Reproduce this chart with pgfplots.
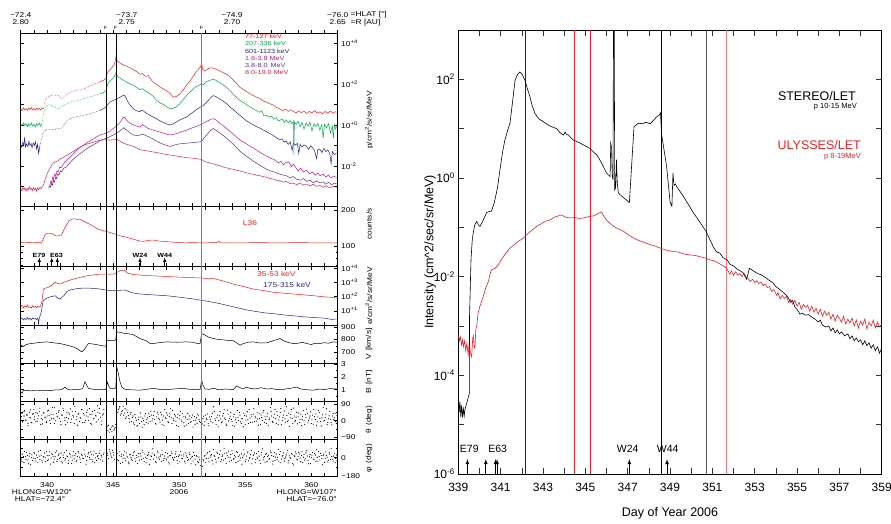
\documentclass[border=0pt]{standalone}
\usepackage{fontspec}
\setmainfont{Liberation Sans}
\newfontfamily\idl{Liberation Sans}[FakeStretch=1.2]
\usepackage{pgfplots}
\usepackage{pgfplotstable}
\pgfplotsset{compat=1.18}

\definecolor{cRed}{RGB}{255,25,25}
\definecolor{cGreen}{RGB}{0,170,70}
\definecolor{cNavy}{RGB}{35,35,145}
\definecolor{cMag}{RGB}{205,20,140}
\definecolor{cPurp}{RGB}{95,45,160}
\definecolor{cPink}{RGB}{235,30,85}
\definecolor{uRed}{RGB}{240,30,35}
\definecolor{uLight}{RGB}{245,120,125}
\newcommand{\tf}{\idl\fontsize{7}{7.5}\selectfont}
\newcommand{\lf}{\idl\fontsize{6}{6.5}\selectfont}

% ---------- right panel data (log10 intensity) ----------
\pgfplotstableread[row sep=\\]{d v\\
339.00 -4.30\\ 339.04 -4.75\\ 339.08 -4.55\\ 339.12 -4.85\\ 339.16 -4.60\\ 339.20 -4.85\\ 339.24 -4.68\\ 339.28 -4.82\\ 339.31 -4.70\\
339.52 -4.37\\ 339.53 -2.80\\ 339.60 -1.65\\ 339.66 -1.25\\ 339.71 -1.10\\ 339.78 -0.95\\ 339.87 -0.88\\ 339.95 -0.95\\ 340.02 -0.98\\
340.15 -0.88\\ 340.34 -0.70\\ 340.45 -0.68\\ 340.57 -0.67\\ 340.70 -0.50\\ 340.85 -0.20\\ 340.97 0.17\\ 341.10 0.55\\ 341.20 0.77\\
341.32 0.95\\ 341.44 1.11\\ 341.55 1.50\\ 341.68 1.98\\ 341.80 2.10\\ 341.91 2.15\\ 342.02 2.10\\ 342.15 1.98\\ 342.27 1.80\\
342.39 1.64\\ 342.50 1.45\\ 342.62 1.31\\ 342.80 1.20\\ 343.02 1.14\\ 343.30 1.06\\ 343.65 1.00\\ 343.80 0.92\\ 343.96 0.87\\
344.05 0.93\\ 344.12 0.88\\ 344.20 0.87\\ 344.43 0.77\\ 344.70 0.72\\ 345.00 0.65\\ 345.22 0.60\\ 345.40 0.52\\ 345.54 0.47\\
345.75 0.32\\ 346.00 0.10\\ 346.17 0.03\\ 346.20 0.70\\ 346.24 0.62\\ 346.27 0.05\\ 346.31 -0.04\\ 346.33 3.50\\ 346.36 3.50\\
346.39 -0.24\\ 346.43 -0.20\\ 346.47 0.37\\ 346.51 -0.10\\ 346.56 -0.30\\ 346.72 -0.37\\ 346.90 -0.43\\ 347.08 -0.50\\ 347.30 1.04\\
347.50 1.11\\ 347.70 1.10\\ 347.85 1.13\\ 348.06 1.10\\ 348.20 1.16\\ 348.37 1.24\\ 348.48 1.27\\ 348.55 1.32\\ 348.60 0.90\\
348.84 0.23\\ 349.00 -0.47\\ 349.05 -0.55\\ 349.09 -0.57\\ 349.14 0.10\\ 349.19 -0.15\\ 349.25 -0.12\\ 349.31 -0.17\\ 349.63 -0.37\\
350.10 -0.70\\ 350.42 -0.90\\ 350.70 -1.08\\ 351.05 -1.40\\ 351.20 -1.50\\ 351.35 -1.52\\ 351.52 -1.62\\ 351.70 -1.66\\ 351.83 -1.75\\
352.00 -1.78\\ 352.15 -1.84\\ 352.31 -1.88\\ 352.45 -1.92\\ 352.62 -2.05\\ 352.68 -1.95\\ 352.75 -1.83\\ 352.85 -1.86\\ 353.00 -1.90\\
353.15 -1.94\\ 353.30 -1.96\\ 353.41 -1.99\\ 353.55 -2.03\\ 353.70 -2.08\\ 353.85 -2.12\\ 354.00 -2.20\\ 354.15 -2.25\\ 354.30 -2.30\\
354.45 -2.36\\ 354.55 -2.40\\ 354.70 -2.52\\ 354.80 -2.48\\ 354.90 -2.62\\ 355.00 -2.66\\ 355.14 -2.76\\ 355.25 -2.74\\ 355.40 -2.78\\
355.55 -2.77\\ 355.70 -2.82\\ 355.85 -2.86\\ 356.00 -2.92\\ 356.10 -2.88\\ 356.20 -2.98\\ 356.35 -3.02\\ 356.50 -3.00\\ 356.60 -3.10\\
356.70 -3.04\\ 356.80 -3.14\\ 356.90 -3.08\\ 357.00 -3.16\\ 357.10 -3.12\\ 357.25 -3.20\\ 357.40 -3.16\\ 357.50 -3.26\\ 357.60 -3.20\\
357.70 -3.30\\ 357.80 -3.24\\ 357.90 -3.32\\ 358.00 -3.28\\ 358.10 -3.38\\ 358.20 -3.30\\ 358.30 -3.40\\ 358.40 -3.34\\ 358.50 -3.45\\
358.60 -3.38\\ 358.70 -3.50\\ 358.80 -3.42\\ 358.90 -3.55\\ 359.00 -3.45\\
}\stereo

\pgfplotstableread[row sep=\\]{d v\\
339.00 -3.17\\ 339.05 -3.30\\ 339.10 -3.22\\ 339.15 -3.38\\ 339.20 -3.28\\ 339.24 -3.42\\ 339.30 -3.30\\ 339.35 -3.50\\ 339.40 -3.36\\
339.47 -3.58\\ 339.52 -3.30\\ 339.57 -3.55\\ 339.63 -3.62\\ 339.68 -3.25\\ 339.71 -3.20\\ 339.75 -3.45\\ 339.79 -3.40\\ 339.83 -3.05\\
339.87 -3.00\\ 339.93 -2.75\\ 340.02 -2.60\\ 340.10 -2.50\\ 340.18 -2.40\\ 340.30 -2.22\\ 340.42 -2.10\\ 340.50 -1.95\\ 340.57 -1.86\\
340.70 -1.84\\ 340.81 -1.80\\ 340.93 -1.73\\ 341.05 -1.64\\ 341.25 -1.52\\ 341.44 -1.42\\ 341.65 -1.35\\ 341.85 -1.28\\ 342.07 -1.22\\
342.30 -1.12\\ 342.50 -1.05\\ 342.70 -0.98\\ 342.90 -0.93\\ 343.10 -0.88\\ 343.33 -0.85\\ 343.50 -0.80\\ 343.70 -0.77\\ 343.88 -0.75\\
344.05 -0.79\\ 344.28 -0.81\\ 344.50 -0.80\\ 344.70 -0.82\\ 344.91 -0.81\\ 345.10 -0.79\\ 345.25 -0.77\\ 345.38 -0.77\\ 345.55 -0.73\\
345.70 -0.70\\ 345.77 -0.69\\ 345.88 -0.78\\ 346.00 -0.85\\ 346.24 -0.95\\ 346.50 -1.02\\ 346.80 -1.08\\ 347.10 -1.17\\ 347.43 -1.25\\
347.75 -1.30\\ 348.06 -1.35\\ 348.30 -1.38\\ 348.53 -1.42\\ 348.80 -1.46\\ 349.16 -1.49\\ 349.40 -1.50\\ 349.65 -1.54\\ 349.94 -1.56\\
350.20 -1.57\\ 350.45 -1.60\\ 350.65 -1.62\\ 350.90 -1.66\\ 351.10 -1.68\\ 351.35 -1.74\\ 351.60 -1.80\\ 351.70 -1.85\\ 351.83 -1.95\\
351.90 -1.88\\ 352.00 -1.97\\ 352.10 -1.90\\ 352.20 -1.96\\ 352.31 -1.94\\ 352.40 -2.00\\ 352.50 -1.93\\ 352.60 -2.02\\ 352.70 -2.04\\
352.78 -2.10\\ 352.90 -2.05\\ 353.00 -2.12\\ 353.10 -2.08\\ 353.20 -2.14\\ 353.30 -2.11\\ 353.41 -2.18\\ 353.50 -2.15\\ 353.60 -2.22\\
353.70 -2.20\\ 353.80 -2.30\\ 353.90 -2.26\\ 354.04 -2.38\\ 354.10 -2.32\\ 354.20 -2.45\\ 354.30 -2.38\\ 354.40 -2.44\\ 354.51 -2.40\\
354.60 -2.52\\ 354.70 -2.46\\ 354.80 -2.56\\ 354.90 -2.48\\ 355.00 -2.60\\ 355.10 -2.52\\ 355.20 -2.66\\ 355.30 -2.56\\ 355.40 -2.62\\
355.50 -2.58\\ 355.60 -2.70\\ 355.70 -2.60\\ 355.80 -2.72\\ 355.90 -2.64\\ 356.00 -2.76\\ 356.10 -2.66\\ 356.20 -2.80\\ 356.30 -2.70\\
356.40 -2.78\\ 356.50 -2.72\\ 356.60 -2.86\\ 356.70 -2.76\\ 356.80 -2.90\\ 356.90 -2.78\\ 357.00 -2.84\\ 357.10 -2.92\\ 357.20 -2.80\\
357.30 -2.96\\ 357.40 -2.86\\ 357.50 -2.94\\ 357.60 -2.84\\ 357.70 -3.00\\ 357.80 -2.88\\ 357.90 -3.04\\ 358.00 -2.90\\ 358.10 -2.98\\
358.20 -2.86\\ 358.30 -3.06\\ 358.40 -2.92\\ 358.50 -3.00\\ 358.60 -2.88\\ 358.70 -3.04\\ 358.80 -2.92\\ 358.90 -3.02\\ 359.00 -2.96\\
}\ulysses

% ---------- left panel 1 (log10 p/cm2/s/sr/MeV) ----------
\pgfplotstableread[row sep=\\]{d v\\
338.00 0.79\\ 338.10 0.70\\ 338.20 0.84\\ 338.30 0.74\\ 338.40 0.80\\ 338.50 0.71\\ 338.60 0.82\\ 338.70 0.76\\ 338.80 0.86\\ 338.90 0.74\\
339.00 0.80\\ 339.10 0.72\\ 339.20 0.83\\ 339.30 0.75\\ 339.40 0.81\\ 339.50 0.73\\ 339.60 0.84\\ 339.72 0.80\\
}\redA
\pgfplotstableread[row sep=\\]{d v\\
339.72 0.80\\ 339.85 1.20\\ 339.97 1.36\\ 340.20 1.42\\ 340.50 1.46\\ 340.85 1.44\\ 341.10 1.28\\ 341.40 1.45\\ 341.73 1.60\\ 342.20 1.70\\
342.74 1.76\\ 343.30 1.92\\ 344.00 2.11\\
}\redB
\pgfplotstableread[row sep=\\]{d v\\
344.00 2.11\\ 344.15 2.16\\ 344.30 2.20\\ 344.45 2.28\\ 344.55 2.50\\ 344.64 2.64\\ 344.80 2.72\\ 344.95 2.85\\ 345.08 2.95\\ 345.15 3.10\\
345.22 3.36\\ 345.30 3.15\\ 345.40 3.08\\ 345.52 3.04\\ 345.70 2.96\\ 345.85 2.92\\ 346.02 2.88\\ 346.20 2.82\\ 346.35 2.78\\ 346.53 2.70\\
346.70 2.65\\ 346.85 2.58\\ 347.03 2.48\\ 347.20 2.52\\ 347.35 2.42\\ 347.50 2.38\\ 347.66 2.42\\ 347.80 2.28\\ 348.04 2.08\\ 348.30 1.98\\
348.55 1.86\\ 348.80 1.76\\ 349.05 1.68\\ 349.30 1.55\\ 349.56 1.36\\ 349.80 1.40\\ 350.06 1.52\\ 350.31 1.72\\ 350.57 1.96\\ 350.82 2.16\\
351.10 2.42\\ 351.32 2.64\\ 351.50 2.76\\ 351.62 2.85\\ 351.70 3.04\\ 351.78 2.72\\ 351.95 2.64\\ 352.20 2.76\\ 352.40 2.80\\ 352.58 2.78\\
352.90 2.70\\ 353.20 2.60\\ 353.59 2.48\\ 353.85 2.36\\ 354.10 2.20\\ 354.35 2.02\\ 354.60 1.84\\ 354.85 1.74\\ 355.10 1.64\\ 355.35 1.52\\
355.61 1.44\\ 355.85 1.36\\ 356.10 1.30\\ 356.35 1.18\\ 356.62 1.12\\ 356.85 1.04\\ 357.10 0.98\\ 357.35 0.86\\ 357.63 0.79\\ 357.85 0.70\\
358.05 0.78\\ 358.25 0.66\\ 358.45 0.74\\ 358.64 0.68\\ 358.85 0.58\\ 359.05 0.70\\ 359.25 0.60\\ 359.45 0.68\\ 359.65 0.56\\ 359.85 0.66\\
360.05 0.60\\ 360.25 0.70\\ 360.45 0.58\\ 360.66 0.64\\ 360.85 0.55\\ 361.05 0.66\\ 361.25 0.58\\ 361.45 0.68\\ 361.65 0.57\\ 361.80 0.65\\
361.92 0.62\\
}\redC
\pgfplotstableread[row sep=\\]{d v\\
338.00 0.07\\ 338.10 -0.05\\ 338.20 0.10\\ 338.30 -0.02\\ 338.40 0.08\\ 338.50 -0.08\\ 338.60 0.05\\ 338.70 -0.04\\ 338.80 0.10\\
338.90 -0.06\\ 339.00 0.04\\ 339.10 -0.10\\ 339.20 0.06\\ 339.30 -0.03\\ 339.40 0.09\\ 339.50 -0.05\\ 339.60 0.06\\
}\grnA
\pgfplotstableread[row sep=\\]{d v\\
339.60 0.06\\ 339.75 0.60\\ 339.97 0.95\\ 340.20 1.00\\ 340.50 0.88\\ 340.85 0.79\\ 341.20 0.95\\ 341.73 1.12\\ 342.30 1.20\\ 342.74 1.28\\
343.40 1.40\\ 344.01 1.52\\
}\grnB
\pgfplotstableread[row sep=\\]{d v\\
344.01 1.52\\ 344.30 1.60\\ 344.46 1.68\\ 344.55 1.90\\ 344.64 2.08\\ 344.85 2.20\\ 345.00 2.30\\ 345.12 2.40\\ 345.22 2.56\\ 345.35 2.36\\
345.50 2.30\\ 345.65 2.24\\ 345.85 2.16\\ 346.00 2.10\\ 346.25 2.02\\ 346.50 1.95\\ 346.75 1.85\\ 347.03 1.72\\ 347.20 1.78\\ 347.35 1.70\\
347.60 1.60\\ 347.80 1.52\\ 348.04 1.40\\ 348.30 1.20\\ 348.55 1.08\\ 348.80 1.00\\ 349.05 0.90\\ 349.30 0.79\\ 349.50 0.80\\ 349.70 0.86\\
350.06 1.04\\ 350.30 1.25\\ 350.50 1.40\\ 350.75 1.58\\ 350.94 1.68\\ 351.15 1.82\\ 351.35 1.90\\ 351.55 1.96\\ 351.70 2.00\\ 351.85 1.98\\
352.00 2.10\\ 352.30 2.18\\ 352.58 2.24\\ 352.80 2.18\\ 353.00 2.10\\ 353.30 1.98\\ 353.59 1.84\\ 353.85 1.68\\ 354.10 1.50\\ 354.35 1.34\\
354.60 1.20\\ 354.85 1.10\\ 355.10 1.00\\ 355.35 0.88\\ 355.61 0.79\\ 355.85 0.70\\ 356.10 0.62\\ 356.25 0.70\\ 356.40 0.45\\ 356.62 0.47\\
356.80 0.38\\ 357.00 0.44\\ 357.15 0.28\\ 357.35 0.36\\ 357.50 0.20\\ 357.63 0.23\\ 357.80 0.30\\ 357.95 0.12\\ 358.10 0.25\\ 358.25 0.10\\
358.40 0.22\\ 358.55 0.05\\ 358.65 0.20\\ 358.68 -1.45\\ 358.72 0.15\\ 358.85 0.02\\ 359.00 0.18\\ 359.15 -0.10\\ 359.30 0.12\\ 359.45 -0.20\\
359.60 0.10\\ 359.75 -0.05\\ 359.90 0.14\\ 360.05 -0.30\\ 360.20 0.05\\ 360.35 -0.08\\ 360.50 0.08\\ 360.65 -0.25\\ 360.80 0.02\\ 360.90 -0.65\\
361.00 0.04\\ 361.15 -0.15\\ 361.30 0.06\\ 361.45 -0.40\\ 361.60 -0.05\\ 361.67 -0.65\\ 361.75 0.00\\ 361.85 -0.20\\ 361.92 -0.09\\
}\grnC
\pgfplotstableread[row sep=\\]{d v\\
338.00 -0.97\\ 338.08 -1.10\\ 338.16 -0.85\\ 338.24 -1.02\\ 338.30 -0.60\\ 338.36 -1.08\\ 338.45 -0.92\\ 338.55 -1.05\\ 338.62 -0.80\\
338.70 -1.00\\ 338.78 -0.90\\ 338.86 -1.12\\ 338.95 -0.88\\ 339.04 -1.00\\ 339.12 -0.82\\ 339.20 -1.18\\ 339.28 -0.95\\ 339.36 -1.40\\
339.46 -1.00\\
}\bluA
\pgfplotstableread[row sep=\\]{d v\\
339.46 -1.00\\ 339.72 -0.33\\ 340.00 -0.20\\ 340.30 -0.25\\ 340.85 -0.17\\ 341.10 -0.15\\ 341.50 0.20\\ 341.73 0.31\\ 342.30 0.42\\
342.99 0.50\\ 343.50 0.60\\ 344.01 0.71\\
}\bluB
\pgfplotstableread[row sep=\\]{d v\\
344.01 0.71\\ 344.20 0.78\\ 344.40 0.85\\ 344.60 1.00\\ 344.76 1.12\\ 345.00 1.20\\ 345.27 1.28\\ 345.50 1.35\\ 345.70 1.42\\ 345.82 1.46\\
345.95 1.35\\ 346.10 1.15\\ 346.30 0.95\\ 346.53 0.79\\ 346.75 0.70\\ 347.00 0.65\\ 347.15 0.72\\ 347.30 0.68\\ 347.55 0.56\\ 347.79 0.47\\
348.05 0.38\\ 348.30 0.30\\ 348.55 0.20\\ 348.80 0.12\\ 349.05 0.05\\ 349.30 0.00\\ 349.55 0.06\\ 349.80 0.15\\ 350.06 0.25\\ 350.30 0.32\\
350.57 0.39\\ 350.80 0.52\\ 351.00 0.60\\ 351.30 0.75\\ 351.58 0.87\\ 351.75 0.92\\ 351.90 1.00\\ 352.20 1.20\\ 352.40 1.35\\ 352.58 1.44\\
352.80 1.38\\ 353.00 1.30\\ 353.30 1.18\\ 353.59 1.04\\ 353.85 0.88\\ 354.10 0.75\\ 354.35 0.60\\ 354.60 0.47\\ 354.85 0.34\\ 355.10 0.20\\
355.35 0.10\\ 355.61 0.00\\ 355.85 -0.08\\ 356.10 -0.15\\ 356.35 -0.24\\ 356.62 -0.33\\ 356.85 -0.42\\ 357.10 -0.50\\ 357.35 -0.62\\ 357.63 -0.73\\
357.80 -0.68\\ 357.95 -0.85\\ 358.10 -0.78\\ 358.25 -0.95\\ 358.40 -0.82\\ 358.55 -1.25\\ 358.64 -0.89\\ 358.80 -0.98\\ 358.95 -0.90\\ 359.05 -1.40\\
359.15 -0.95\\ 359.30 -1.08\\ 359.45 -0.98\\ 359.65 -1.05\\ 359.80 -1.20\\ 359.95 -1.02\\ 360.10 -1.12\\ 360.25 -1.25\\ 360.40 -1.65\\ 360.50 -1.18\\
360.66 -1.20\\ 360.80 -1.35\\ 360.95 -1.15\\ 361.10 -1.30\\ 361.25 -1.22\\ 361.40 -1.40\\ 361.50 -1.90\\ 361.60 -1.30\\ 361.75 -1.45\\ 361.92 -1.37\\
}\bluC
\pgfplotstableread[row sep=\\]{d v\\
340.20 -2.95\\ 340.28 -2.75\\ 340.35 -2.85\\ 340.42 -2.55\\ 340.50 -2.65\\ 340.58 -2.40\\ 340.66 -2.50\\ 340.75 -2.25\\ 340.85 -2.30\\
340.95 -2.05\\ 341.05 -2.10\\ 341.20 -1.95\\ 341.35 -1.80\\ 341.50 -1.70\\ 341.73 -1.58\\ 342.00 -1.40\\ 342.20 -1.25\\ 342.50 -1.10\\
342.74 -1.00\\ 343.00 -0.88\\ 343.25 -0.78\\ 343.50 -0.68\\ 343.70 -0.60\\ 344.01 -0.49\\ 344.25 -0.44\\ 344.46 -0.41\\ 344.75 -0.30\\
345.01 -0.17\\ 345.25 -0.05\\ 345.50 0.10\\ 345.70 0.30\\ 345.82 0.39\\ 345.95 0.30\\ 346.10 0.18\\ 346.30 0.08\\ 346.53 0.00\\
346.80 -0.06\\ 347.03 -0.10\\ 347.20 0.02\\ 347.35 -0.04\\ 347.66 -0.17\\ 348.00 -0.24\\ 348.30 -0.30\\ 348.70 -0.38\\ 349.05 -0.45\\
349.30 -0.49\\ 349.55 -0.46\\ 349.80 -0.42\\ 350.20 -0.33\\ 350.57 -0.25\\ 350.90 -0.16\\ 351.20 -0.10\\ 351.58 0.00\\ 351.80 0.08\\
352.10 0.18\\ 352.40 0.28\\ 352.58 0.31\\ 352.80 0.24\\ 353.00 0.12\\ 353.30 -0.02\\ 353.59 -0.17\\ 353.85 -0.32\\ 354.10 -0.45\\
354.35 -0.60\\ 354.60 -0.73\\ 355.10 -0.93\\ 355.61 -1.13\\ 356.10 -1.33\\ 356.62 -1.53\\ 356.90 -1.62\\ 357.20 -1.70\\ 357.50 -1.85\\
357.70 -1.78\\ 357.88 -1.95\\ 358.05 -1.85\\ 358.30 -1.80\\ 358.50 -2.05\\ 358.64 -1.92\\ 358.85 -2.10\\ 359.00 -2.25\\ 359.20 -2.12\\
359.40 -2.30\\ 359.65 -2.22\\ 359.85 -2.38\\ 360.10 -2.30\\ 360.30 -2.45\\ 360.50 -2.35\\ 360.66 -2.48\\ 360.90 -2.40\\ 361.10 -2.55\\
361.30 -2.45\\ 361.50 -2.60\\ 361.70 -2.50\\ 361.92 -2.57\\
}\magT
\pgfplotstableread[row sep=\\]{d v\\
340.10 -3.10\\ 340.18 -2.98\\ 340.25 -3.05\\ 340.32 -2.85\\ 340.40 -2.95\\ 340.48 -2.70\\ 340.56 -2.80\\ 340.65 -2.55\\ 340.72 -2.62\\
340.80 -2.40\\ 340.90 -2.45\\ 341.00 -2.25\\ 341.10 -2.30\\ 341.25 -2.12\\ 341.48 -2.05\\ 341.65 -1.90\\ 341.80 -1.80\\ 342.00 -1.66\\
342.20 -1.55\\ 342.45 -1.42\\ 342.74 -1.29\\ 343.00 -1.16\\ 343.30 -1.05\\ 343.50 -0.97\\ 343.70 -0.90\\ 344.01 -0.76\\ 344.25 -0.70\\
344.46 -0.65\\ 344.75 -0.57\\ 345.01 -0.49\\ 345.25 -0.40\\ 345.45 -0.32\\ 345.65 -0.22\\ 345.82 -0.13\\ 345.95 -0.22\\ 346.15 -0.32\\
346.35 -0.42\\ 346.53 -0.49\\ 346.80 -0.52\\ 347.03 -0.50\\ 347.20 -0.44\\ 347.35 -0.48\\ 347.66 -0.57\\ 348.00 -0.68\\ 348.30 -0.80\\
348.70 -0.92\\ 349.05 -1.00\\ 349.30 -1.05\\ 349.55 -1.00\\ 349.80 -0.95\\ 350.20 -0.91\\ 350.57 -0.89\\ 350.90 -0.87\\ 351.20 -0.85\\
351.50 -0.83\\ 351.70 -0.81\\ 351.90 -0.62\\ 352.10 -0.48\\ 352.35 -0.28\\ 352.58 -0.17\\ 352.80 -0.26\\ 353.00 -0.36\\ 353.30 -0.50\\
353.59 -0.65\\ 353.85 -0.80\\ 354.10 -0.95\\ 354.35 -1.12\\ 354.60 -1.29\\ 355.10 -1.53\\ 355.61 -1.77\\ 356.10 -1.97\\ 356.62 -2.17\\
356.90 -2.24\\ 357.20 -2.30\\ 357.50 -2.38\\ 357.80 -2.44\\ 358.14 -2.49\\ 358.40 -2.60\\ 358.60 -2.52\\ 358.90 -2.66\\ 359.20 -2.70\\
359.40 -2.62\\ 359.65 -2.76\\ 359.90 -2.70\\ 360.15 -2.82\\ 360.40 -2.74\\ 360.66 -2.84\\ 360.90 -2.78\\ 361.10 -2.90\\ 361.30 -2.80\\
361.55 -2.92\\ 361.75 -2.84\\ 361.92 -2.89\\
}\purT
\pgfplotstableread[row sep=\\]{d v\\
338.00 -3.13\\ 338.08 -3.22\\ 338.16 -3.05\\ 338.24 -3.18\\ 338.32 -3.08\\ 338.40 -3.25\\ 338.48 -3.10\\ 338.56 -3.20\\ 338.64 -3.02\\
338.72 -3.15\\ 338.80 -3.08\\ 338.88 -3.22\\ 338.96 -3.06\\ 339.04 -3.18\\ 339.12 -3.10\\ 339.20 -3.24\\ 339.28 -3.08\\ 339.36 -3.16\\
339.46 -3.05\\ 339.55 -3.12\\ 339.62 -3.00\\ 339.72 -2.95\\ 339.85 -2.65\\ 339.97 -2.45\\ 340.10 -2.25\\ 340.22 -2.10\\ 340.35 -1.95\\
340.47 -1.85\\ 340.65 -1.80\\ 340.85 -1.74\\ 341.00 -1.66\\ 341.20 -1.60\\ 341.45 -1.50\\ 341.73 -1.40\\ 342.00 -1.28\\ 342.20 -1.20\\
342.50 -1.08\\ 342.74 -1.00\\ 343.00 -0.94\\ 343.25 -0.90\\ 343.50 -0.84\\ 343.70 -0.80\\ 344.01 -0.75\\ 344.25 -0.73\\ 344.46 -0.72\\
344.75 -0.74\\ 345.00 -0.73\\ 345.15 -0.72\\ 345.27 -0.69\\ 345.40 -0.75\\ 345.52 -0.80\\ 345.75 -0.88\\ 346.02 -0.95\\ 346.30 -1.00\\
346.53 -1.05\\ 346.80 -1.13\\ 347.03 -1.21\\ 347.30 -1.24\\ 347.66 -1.28\\ 348.00 -1.32\\ 348.30 -1.35\\ 348.70 -1.40\\ 349.05 -1.45\\
349.40 -1.48\\ 349.80 -1.52\\ 350.20 -1.56\\ 350.57 -1.60\\ 350.95 -1.62\\ 351.32 -1.65\\ 351.70 -1.69\\ 351.85 -1.76\\ 352.00 -1.80\\
352.30 -1.86\\ 352.58 -1.90\\ 352.85 -1.95\\ 353.10 -2.00\\ 353.35 -2.06\\ 353.59 -2.10\\ 353.85 -2.14\\ 354.10 -2.17\\ 354.35 -2.22\\
354.60 -2.25\\ 354.85 -2.30\\ 355.10 -2.34\\ 355.35 -2.38\\ 355.61 -2.41\\ 355.85 -2.46\\ 356.10 -2.48\\ 356.35 -2.53\\ 356.62 -2.55\\
356.85 -2.62\\ 357.10 -2.64\\ 357.35 -2.70\\ 357.63 -2.73\\ 357.85 -2.80\\ 358.10 -2.76\\ 358.35 -2.86\\ 358.64 -2.85\\ 358.90 -2.92\\
359.15 -2.84\\ 359.40 -2.94\\ 359.65 -2.89\\ 359.90 -2.98\\ 360.15 -2.90\\ 360.40 -3.00\\ 360.66 -2.95\\ 360.90 -3.05\\ 361.15 -2.98\\
361.40 -3.08\\ 361.65 -3.00\\ 361.92 -3.05\\
}\pinkT

% ---------- electrons (log10) ----------
\pgfplotstableread[row sep=\\]{d v\\
338.00 1.28\\ 338.10 1.40\\ 338.20 1.20\\ 338.30 1.35\\ 338.40 1.25\\ 338.50 1.42\\ 338.60 1.22\\ 338.70 1.30\\ 338.80 1.18\\ 338.90 1.36\\
339.00 1.24\\ 339.10 1.32\\ 339.20 1.20\\ 339.30 1.34\\ 339.46 1.26\\ 339.60 1.60\\ 339.72 2.53\\ 339.90 2.60\\ 340.09 2.65\\ 340.35 2.80\\
340.60 3.00\\ 340.80 2.92\\ 340.98 2.88\\ 341.30 3.02\\ 341.60 3.12\\ 341.99 3.23\\ 342.50 3.35\\ 343.00 3.46\\ 343.50 3.52\\ 344.01 3.58\\
344.50 3.57\\ 345.01 3.58\\ 345.30 3.70\\ 345.52 3.82\\ 345.75 3.85\\ 345.90 3.83\\ 346.10 3.65\\ 346.53 3.55\\ 347.50 3.48\\ 348.50 3.44\\
349.05 3.41\\ 350.00 3.37\\ 351.00 3.33\\ 351.58 3.31\\ 352.00 3.28\\ 352.30 3.25\\ 352.58 3.27\\ 352.80 3.22\\ 353.30 3.10\\ 354.10 2.88\\
354.80 2.72\\ 355.61 2.53\\ 356.40 2.42\\ 357.13 2.30\\ 357.90 2.24\\ 358.64 2.18\\ 359.40 2.12\\ 360.15 2.06\\ 361.00 1.98\\ 361.50 1.95\\
361.92 1.90\\
}\eRed
\pgfplotstableread[row sep=\\]{d v\\
338.00 0.41\\ 338.10 0.50\\ 338.20 0.36\\ 338.30 0.46\\ 338.40 0.38\\ 338.50 0.52\\ 338.60 0.40\\ 338.70 0.48\\ 338.80 0.35\\ 338.90 0.50\\
339.00 0.42\\ 339.10 0.46\\ 339.20 0.38\\ 339.30 0.50\\ 339.35 0.06\\ 339.40 0.45\\ 339.55 0.90\\ 339.70 1.70\\ 339.90 1.85\\ 340.09 1.94\\
340.35 2.00\\ 340.60 2.06\\ 340.80 1.90\\ 340.98 1.82\\ 341.30 2.10\\ 341.50 2.36\\ 341.73 2.46\\ 342.20 2.55\\ 342.74 2.60\\ 343.50 2.58\\
344.01 2.53\\ 344.50 2.45\\ 345.01 2.41\\ 345.50 2.44\\ 345.90 2.46\\ 346.20 2.35\\ 346.53 2.25\\ 347.03 2.18\\ 348.00 2.12\\ 349.05 2.06\\
350.00 1.96\\ 351.00 1.84\\ 351.58 1.75\\ 352.20 1.66\\ 353.00 1.52\\ 354.10 1.28\\ 355.00 1.08\\ 355.61 0.98\\ 356.50 0.85\\ 357.13 0.80\\
358.00 0.70\\ 358.64 0.65\\ 359.40 0.58\\ 360.15 0.53\\ 361.00 0.48\\ 361.50 0.40\\ 361.92 0.41\\
}\eBlue

\pgfplotsset{
  lp/.style={scale only axis, width=317pt, anchor=north west, xmin=338, xmax=362,
    xtick={338,...,362}, xticklabels={}, tick align=inside,
    major tick length=3.5pt, minor tick length=2pt,
    yticklabel pos=right, ticklabel style={font=\tf},
    /pgf/number format/assume math mode=true,
    axis line style={line width=0.6pt},
    every tick/.append style={line width=0.5pt, black},
    clip=true},
  cv/.style={line width=0.5pt},
  dots/.style={only marks, mark=*, mark size=0.28pt, black}
}

\begin{document}
\begin{tikzpicture}
\useasboundingbox (0pt,0pt) rectangle (891pt,-523pt);

% ================= LEFT: panel 1 ====================
\begin{axis}[lp, at={(20.7pt,-33pt)}, height=173.7pt, ymode=log, ymin=1e-4, ymax=31623,
  xtick pos=bottom,
  ytick={1e-4,1e-3,1e-2,1e-1,1,10,100,1000,10000},
  yticklabels={,,10\textsuperscript{-2},,10\textsuperscript{+0},,10\textsuperscript{+2},,10\textsuperscript{+4}},
  minor tick length=0pt]
\addplot[cv, cPink] table[x=d, y expr=10^(\thisrow{v})] {\pinkT};
\addplot[cv, cPurp] table[x=d, y expr=10^(\thisrow{v})] {\purT};
\addplot[cv, cMag] table[x=d, y expr=10^(\thisrow{v})] {\magT};
\addplot[cv, cNavy] table[x=d, y expr=10^(\thisrow{v})] {\bluA};
\addplot[cv, cNavy, densely dotted] table[x=d, y expr=10^(\thisrow{v})] {\bluB};
\addplot[cv, cNavy] table[x=d, y expr=10^(\thisrow{v})] {\bluC};
\addplot[cv, cGreen] table[x=d, y expr=10^(\thisrow{v})] {\grnA};
\addplot[cv, cGreen, densely dotted] table[x=d, y expr=10^(\thisrow{v})] {\grnB};
\addplot[cv, cGreen] table[x=d, y expr=10^(\thisrow{v})] {\grnC};
\addplot[cv, cRed] table[x=d, y expr=10^(\thisrow{v})] {\redA};
\addplot[cv, cRed, densely dotted] table[x=d, y expr=10^(\thisrow{v})] {\redB};
\addplot[cv, cRed] table[x=d, y expr=10^(\thisrow{v})] {\redC};
\end{axis}
% outward ticks along the top (HLAT / R scale)
\begin{axis}[at={(20.7pt,-33pt)}, anchor=north west, scale only axis, width=317pt, height=173.7pt,
  xmin=338, xmax=362, ymin=0, ymax=1, axis x line*=top, axis y line=none,
  xtick={338,...,362}, xticklabels={}, tick align=outside, major tick length=3pt,
  axis line style={line width=0.6pt}, every tick/.append style={line width=0.5pt, black}]
\end{axis}

% panel 2 counts/s
\begin{axis}[lp, at={(20.7pt,-206.7pt)}, height=60pt, ymode=log, ymin=68, ymax=213,
  ytick={100,200}, yticklabels={100,200}, minor ytick={70,80,90}]
\addplot[cv, cRed] coordinates {(338.00,108) (338.30,107) (338.60,108) (338.90,107) (339.20,108) (339.59,108) (339.70,115)
 (339.84,125) (340.00,128) (340.22,129) (340.45,126) (340.70,122) (340.85,122) (341.10,125) (341.30,140) (341.48,151)
 (341.65,162) (341.86,168) (342.10,169) (342.30,167) (342.49,168) (342.75,162) (343.00,157) (343.40,149) (343.75,141)
 (344.10,136) (344.51,133) (344.90,129) (345.27,125) (345.60,122) (346.02,119) (346.50,115) (347.00,111) (347.29,110)
 (347.60,112) (348.04,113) (348.40,111) (348.80,110) (349.30,109) (349.80,108) (350.50,107) (351.00,108) (351.50,107)
 (352.00,107) (352.90,108) (353.00,111) (353.10,107) (354.00,107) (355.00,107) (356.00,108) (357.00,107) (358.00,107)
 (359.00,108) (360.00,107) (361.00,107) (362.00,107)};
\draw[-latex, line width=0.5pt] (axis cs:339.41,68) -- (axis cs:339.41,81);
\draw[-latex, line width=0.5pt] (axis cs:340.35,68) -- (axis cs:340.35,81);
\draw[-latex, line width=0.5pt] (axis cs:340.77,68) -- (axis cs:340.77,81);
\draw[-latex, line width=0.5pt] (axis cs:347.03,68) -- (axis cs:347.03,81);
\draw[-latex, line width=0.5pt] (axis cs:348.90,68) -- (axis cs:348.90,81);
\end{axis}

% panel 3 electrons
\begin{axis}[lp, at={(20.7pt,-266.7pt)}, height=58.3pt, ymode=log, ymin=1, ymax=12589,
  ytick={10,100,1000,10000},
  yticklabels={10\textsuperscript{+1},10\textsuperscript{+2},10\textsuperscript{+3},10\textsuperscript{+4}},
  minor tick length=0pt]
\addplot[cv, cNavy] table[x=d, y expr=10^(\thisrow{v})] {\eBlue};
\addplot[cv, cRed] table[x=d, y expr=10^(\thisrow{v})] {\eRed};
\end{axis}

% panel 4 V
\begin{axis}[lp, at={(20.7pt,-325pt)}, height=38pt, ymin=612, ymax=916,
  ytick={700,800,900}, minor ytick={650,750,850}]
\addplot[cv, black] coordinates {(338.00,754) (338.20,745) (338.40,758) (338.60,765) (338.96,770) (339.30,775) (339.60,778)
 (339.97,781) (340.30,776) (340.60,772) (340.98,768) (341.30,760) (341.60,752) (341.99,741) (342.30,725) (342.62,701)
 (342.75,712) (342.87,728) (343.12,768) (343.40,765) (343.70,760) (344.01,754) (344.30,748) (344.46,746) (344.51,794)
 (344.80,790) (345.14,794) (345.20,800) (345.27,861) (345.50,858) (345.80,850) (346.02,848) (346.50,840) (347.03,808)
 (347.50,790) (347.80,768) (348.04,768) (348.50,775) (349.05,781) (349.80,778) (350.57,781) (351.00,778) (351.30,770)
 (351.58,768) (351.70,848) (351.90,838) (352.20,820) (352.58,808) (353.00,800) (353.50,795) (354.10,790) (354.40,770)
 (354.60,754) (354.80,765) (355.20,778) (355.61,781) (356.10,772) (356.62,773) (357.10,790) (357.40,800) (357.63,808)
 (357.90,790) (358.30,775) (358.64,768) (359.00,770) (359.30,778) (359.65,768) (360.00,760) (360.30,770) (360.66,768)
 (361.00,775) (361.30,770) (361.67,781) (362.00,778)};
\end{axis}

% panel 5 B
\begin{axis}[lp, at={(20.7pt,-363pt)}, height=38pt, ymin=0.1, ymax=3.1,
  ytick={1,2,3}, minor ytick={0.5,1.5,2.5}]
\addplot[cv, black] coordinates {(338.00,0.84) (338.10,0.70) (338.20,0.92) (338.45,0.95) (338.80,0.90) (339.20,0.96)
 (339.60,0.92) (340.00,0.95) (340.22,0.92) (340.60,0.97) (341.00,0.98) (341.23,1.08) (341.36,1.21) (341.50,1.05)
 (341.73,0.98) (342.10,1.00) (342.49,1.02) (342.70,1.10) (342.87,1.63) (343.00,1.35) (343.12,1.10) (343.50,1.02)
 (344.01,1.00) (344.40,1.00) (344.46,1.05) (344.56,1.58) (344.66,1.30) (344.76,1.10) (345.14,1.10) (345.20,1.15)
 (345.27,2.81) (345.33,2.55) (345.39,2.30) (345.50,1.70) (345.65,1.20) (345.85,1.05) (346.02,1.00) (346.50,0.98)
 (347.03,0.95) (347.50,1.02) (348.04,1.10) (348.50,1.02) (349.05,1.00) (349.60,1.05) (350.31,1.10) (350.80,1.02)
 (351.20,1.00) (351.58,1.00) (351.70,1.80) (351.80,1.35) (351.95,1.05) (352.30,1.02) (352.60,1.12) (353.00,0.98)
 (353.50,1.05) (354.10,1.00) (354.35,1.30) (354.60,1.15) (354.85,1.05) (355.10,1.20) (355.36,1.10) (355.80,1.05)
 (356.20,1.15) (356.62,1.05) (357.00,1.08) (357.40,1.00) (357.88,1.02) (358.40,1.10) (358.89,1.20) (359.20,1.05)
 (359.60,1.00) (360.15,0.95) (360.60,1.05) (361.00,1.00) (361.40,1.08) (361.92,1.05)};
\end{axis}

% panel 6 theta
\begin{axis}[lp, at={(20.7pt,-401pt)}, height=38.5pt, ymin=-102, ymax=106,
  ytick={-90,0,90}, yticklabels={−90,0,90}, minor ytick={-45,45}]
\addplot[dots] coordinates {
(338.0,10) (338.1,40) (338.15,-5) (338.25,25) (338.3,55) (338.4,0) (338.5,30) (338.55,-15) (338.65,45) (338.75,15)
(338.8,-10) (338.9,35) (339.0,60) (339.05,20) (339.15,-5) (339.25,40) (339.3,10) (339.4,50) (339.5,-20) (339.6,30)
(339.65,5) (339.75,45) (339.85,15) (339.95,-10) (340.0,25) (340.1,55) (340.2,0) (340.3,35) (340.4,70) (340.5,10)
(340.55,-15) (340.7,40) (340.8,20) (340.9,55) (341.0,-5) (341.1,30) (341.2,65) (341.3,15) (341.4,-20) (341.5,45)
(341.6,10) (341.7,35) (341.8,-10) (341.9,50) (342.0,20) (342.1,75) (342.2,5) (342.3,-25) (342.4,40) (342.5,15)
(342.6,60) (342.7,-10) (342.8,30) (342.9,0) (343.0,45) (343.1,20) (343.2,65) (343.3,-15) (343.4,35) (343.5,10)
(343.6,55) (343.7,25) (343.8,80) (343.9,5) (344.0,40) (344.1,-20) (344.2,30) (344.3,60)
(344.5,-40) (344.6,-55) (344.65,-25) (344.75,-45) (344.85,-35) (344.9,-60) (345.0,-30) (345.1,-45) (345.2,-20)
(345.4,60) (345.5,75) (345.6,40) (345.7,55) (345.8,30) (345.9,65) (346.0,20) (346.1,45) (346.2,10) (346.3,35)
(346.4,-5) (346.5,25) (346.6,-20) (346.7,15) (346.8,-30) (346.9,5) (347.0,-15) (347.1,20) (347.2,-35) (347.3,0)
(347.4,25) (347.5,-10) (347.6,15) (347.7,40) (347.8,-5) (347.9,30) (348.0,10) (348.1,50) (348.2,-15) (348.3,20)
(348.4,35) (348.5,5) (348.6,45) (348.7,-20) (348.8,25) (348.9,60) (349.0,10) (349.1,30) (349.2,-10) (349.3,40)
(349.4,15) (349.5,55) (349.6,0) (349.7,25) (349.8,-25) (349.9,35) (350.0,10) (350.1,50) (350.2,-5) (350.3,20)
(350.4,-30) (350.5,15) (350.6,5) (350.7,-15) (350.8,25) (350.9,-5) (351.0,30) (351.1,0) (351.2,-20) (351.3,15)
(351.4,35) (351.5,5) (351.6,-10) (351.8,10) (351.9,-25) (352.0,30) (352.1,5) (352.2,-15) (352.3,20) (352.4,-5)
(352.5,40) (352.6,75) (352.7,10) (352.8,-20) (352.9,30) (353.0,0) (353.1,50) (353.2,-10) (353.3,25) (353.4,60)
(353.5,5) (353.6,-25) (353.7,35) (353.8,10) (353.9,45) (354.0,-5) (354.1,20) (354.2,-30) (354.3,15) (354.4,55)
(354.5,0) (354.6,30) (354.7,-15) (354.8,10) (354.9,40) (355.0,-20) (355.1,25) (355.2,5) (355.3,60) (355.4,-10)
(355.5,20) (355.6,35) (355.7,-5) (355.8,15) (355.9,45) (356.0,-25) (356.1,10) (356.2,30) (356.3,0) (356.4,55)
(356.5,20) (356.6,-15) (356.7,40) (356.8,5) (356.9,70) (357.0,25) (357.1,-10) (357.2,35) (357.3,10) (357.4,50)
(357.5,-20) (357.6,20) (357.7,65) (357.8,0) (357.9,30) (358.0,10) (358.1,75) (358.2,-5) (358.3,40) (358.4,15)
(358.5,60) (358.6,-15) (358.7,25) (358.8,0) (358.9,45) (359.0,20) (359.1,-10) (359.2,35) (359.3,5) (359.4,55)
(359.5,-20) (359.6,15) (359.7,40) (359.8,0) (359.9,25) (360.0,-15) (360.1,30) (360.2,60) (360.3,5) (360.4,-25)
(360.5,20) (360.6,45) (360.7,-5) (360.8,15) (360.9,70) (361.0,0) (361.1,35) (361.2,-20) (361.3,10) (361.4,50)
(361.5,-10) (361.6,25) (361.7,5) (361.8,40) (361.9,-15)};
\addplot[dots] coordinates {
(338.05,22) (338.15,-8) (338.25,48) (338.35,3) (338.45,31) (338.55,-27) (338.65,15) (338.75,58) (338.85,-12) (338.95,37)
(339.05,6) (339.15,44) (339.25,-3) (339.35,26) (339.45,67) (339.55,11) (339.65,-18) (339.75,40) (339.85,19) (339.95,-6)
(340.05,52) (340.15,28) (340.25,-14) (340.35,9) (340.45,35) (340.55,72) (340.65,-1) (340.75,24) (340.85,46) (340.95,13)
(341.05,-22) (341.15,30) (341.25,55) (341.35,2) (341.45,17) (341.55,-9) (341.65,41) (341.75,63) (341.85,8) (341.95,27)
(342.05,-16) (342.15,50) (342.25,21) (342.35,34) (342.45,-4) (342.55,14) (342.65,60) (342.75,38) (342.85,-11) (342.95,25)
(343.05,57) (343.15,1) (343.25,33) (343.35,-19) (343.45,48) (343.55,12) (343.65,29) (343.75,-7) (343.85,42) (343.95,66)
(344.05,18) (344.15,-2) (344.25,36)
(344.55,-30) (344.7,-62) (344.8,-48) (344.95,-28) (345.05,-52) (345.15,-38)
(345.35,45) (345.45,68) (345.55,30) (345.65,50) (345.75,78) (345.85,41) (345.95,12) (346.05,58) (346.15,27) (346.25,-8)
(346.35,44) (346.45,16) (346.55,-12) (346.65,33) (346.75,2) (346.85,-26) (346.95,19) (347.05,41) (347.15,-4) (347.25,12)
(347.35,-21) (347.45,37) (347.55,6) (347.65,-14) (347.75,22) (347.85,51) (347.95,-2) (348.05,28) (348.15,7) (348.25,-19)
(348.35,46) (348.45,13) (348.55,-8) (348.65,31) (348.75,3) (348.85,-27) (348.95,18) (349.05,42) (349.15,-6) (349.25,23)
(349.35,64) (349.45,-15) (349.55,9) (349.65,33) (349.75,-3) (349.85,17) (349.95,-31) (350.05,27) (350.15,4) (350.25,38)
(350.35,-12) (350.45,21) (350.55,-24) (350.65,40) (350.75,8) (350.85,-9) (350.95,16) (351.05,-35) (351.15,22) (351.25,3)
(351.35,-14) (351.45,26) (351.55,-4)
(351.75,-18) (351.85,24) (351.95,-7) (352.05,13) (352.15,36) (352.25,-28) (352.35,8) (352.45,21) (352.55,-12) (352.65,48)
(352.75,2) (352.85,17) (352.95,-33) (353.05,26) (353.15,9) (353.25,-6) (353.35,38) (353.45,14) (353.55,-19) (353.65,57)
(353.75,-2) (353.85,24) (353.95,7) (354.05,-27) (354.15,33) (354.25,4) (354.35,-11) (354.45,19) (354.55,44) (354.65,-7)
(354.75,12) (354.85,-33) (354.95,27) (355.05,3) (355.15,48) (355.25,-16) (355.35,14) (355.45,31) (355.55,-8) (355.65,66)
(355.75,21) (355.85,-3) (355.95,9) (356.05,37) (356.15,-21) (356.25,17) (356.35,46) (356.45,-9) (356.55,6) (356.65,24)
(356.75,-28) (356.85,13) (356.95,51) (357.05,-4) (357.15,18) (357.25,59) (357.35,-15) (357.45,29) (357.55,3) (357.65,43)
(357.75,-22) (357.85,16) (357.95,52) (358.05,-8) (358.15,27) (358.25,2) (358.35,-31) (358.45,34) (358.55,11) (358.65,68)
(358.75,-5) (358.85,19) (358.95,-17) (359.05,41) (359.15,8) (359.25,-26) (359.35,24) (359.45,-1) (359.55,33) (359.65,62)
(359.75,-12) (359.85,14) (359.95,47) (360.05,4) (360.15,-19) (360.25,22) (360.35,36) (360.45,-7) (360.55,55) (360.65,12)
(360.75,-29) (360.85,31) (360.95,-2) (361.05,18) (361.15,64) (361.25,-11) (361.35,26) (361.45,7) (361.55,-23) (361.65,38)
(361.75,15) (361.85,-6) (361.95,29)};
\end{axis}

% panel 7 phi
\begin{axis}[lp, at={(20.7pt,-439.5pt)}, height=37.2pt, ymin=-185, ymax=175,
  ytick={-180,0}, yticklabels={−180,0}, minor ytick={-90,90},
  xticklabels={,,340,,,,,345,,,,,350,,,,,355,,,,,360,,},
  xticklabel style={yshift=-2pt}]
\addplot[dots] coordinates {
(338.0,30) (338.1,-40) (338.2,10) (338.3,60) (338.4,-20) (338.5,20) (338.6,-60) (338.7,40) (338.8,0) (338.9,-30)
(339.0,50) (339.1,-10) (339.2,25) (339.3,-50) (339.4,15) (339.5,70) (339.6,-25) (339.7,5) (339.8,45) (339.9,-40)
(340.0,20) (340.1,-15) (340.2,55) (340.3,-5) (340.4,30) (340.5,-45) (340.6,10) (340.7,65) (340.8,-20) (340.9,35)
(341.0,0) (341.1,-35) (341.2,25) (341.3,50) (341.4,-10) (341.5,15) (341.6,-55) (341.7,40) (341.8,5) (341.9,-25)
(342.0,60) (342.1,20) (342.2,-40) (342.3,10) (342.4,45) (342.5,-15) (342.6,30) (342.7,-5) (342.8,75) (342.9,15)
(343.0,-30) (343.1,35) (343.2,0) (343.3,55) (343.4,-20) (343.5,25) (343.6,-50) (343.7,40) (343.8,10) (343.9,-10)
(344.0,65) (344.1,20) (344.2,-35) (344.3,45) (344.5,60) (344.6,20) (344.7,80) (344.8,35) (344.9,0) (345.0,50)
(345.1,-20) (345.3,40) (345.4,-30) (345.5,55) (345.6,10) (345.7,-45) (345.8,25) (345.9,-10) (346.0,45) (346.1,5)
(346.2,-60) (346.3,30) (346.4,-15) (346.5,20) (346.6,60) (346.7,-35) (346.8,0) (346.9,40) (347.0,-25) (347.1,15)
(347.2,70) (347.3,-5) (347.4,35) (347.5,-50) (347.6,20) (347.7,50) (347.8,-20) (347.9,10) (348.0,85) (348.1,30)
(348.2,-40) (348.3,5) (348.4,45) (348.5,-15) (348.6,25) (348.7,65) (348.8,-30) (348.9,15) (349.0,-5) (349.1,40)
(349.2,-45) (349.3,20) (349.4,55) (349.5,0) (349.6,-25) (349.7,35) (349.8,10) (349.9,-55) (350.0,25) (350.1,60)
(350.2,-10) (350.3,15) (350.4,-35) (350.5,45) (350.6,0) (350.7,-20) (350.8,30) (350.9,-60) (351.0,10) (351.1,50)
(351.2,-15) (351.3,20) (351.4,-40) (351.5,5) (351.6,-75) (351.8,-20) (351.9,15) (352.0,-50) (352.1,35) (352.2,-5)
(352.3,60) (352.4,20) (352.5,-30) (352.6,80) (352.7,10) (352.8,-45) (352.9,40) (353.0,0) (353.1,65) (353.2,-20)
(353.3,25) (353.4,90) (353.5,-10) (353.6,45) (353.7,5) (353.8,-35) (353.9,30) (354.0,70) (354.1,-15) (354.2,20)
(354.3,-50) (354.4,50) (354.5,10) (354.6,-25) (354.7,35) (354.8,0) (354.9,75) (355.0,-40) (355.1,15) (355.2,55)
(355.3,-10) (355.4,30) (355.5,-60) (355.6,20) (355.7,45) (355.8,-20) (355.9,5) (356.0,60) (356.1,-30) (356.2,25)
(356.3,85) (356.4,0) (356.5,-45) (356.6,40) (356.7,10) (356.8,-15) (356.9,65) (357.0,20) (357.1,-35) (357.2,50)
(357.3,5) (357.4,-20) (357.5,80) (357.6,30) (357.7,-50) (357.8,15) (357.9,45) (358.0,-10) (358.1,25) (358.2,70)
(358.3,-30) (358.4,0) (358.5,40) (358.6,-55) (358.7,20) (358.8,55) (358.9,-15) (359.0,10) (359.1,35) (359.2,-40)
(359.3,60) (359.4,5) (359.5,-25) (359.6,45) (359.7,15) (359.8,-60) (359.9,30) (360.0,0) (360.1,50) (360.2,-20)
(360.3,25) (360.4,75) (360.5,-35) (360.6,10) (360.7,40) (360.8,-10) (360.9,20) (361.0,-45) (361.1,55) (361.2,5)
(361.3,-25) (361.4,35) (361.5,90) (361.6,-15) (361.7,15) (361.8,-50) (361.9,25)};
\addplot[dots] coordinates {
(338.05,-15) (338.15,35) (338.25,-48) (338.35,8) (338.45,52) (338.55,-22) (338.65,14) (338.75,-67) (338.85,27) (338.95,-5)
(339.05,41) (339.15,-33) (339.25,3) (339.35,62) (339.45,-18) (339.55,24) (339.65,-44) (339.75,11) (339.85,-2) (339.95,57)
(340.05,-28) (340.15,19) (340.25,-63) (340.35,36) (340.45,7) (340.55,-14) (340.65,48) (340.75,-38) (340.85,22) (340.95,-9)
(341.05,44) (341.15,-52) (341.25,1) (341.35,-24) (341.45,68) (341.55,12) (341.65,-31) (341.75,26) (341.85,-57) (341.95,17)
(342.05,-12) (342.15,39) (342.25,-26) (342.35,58) (342.45,4) (342.55,-46) (342.65,21) (342.75,-8) (342.85,33) (342.95,-64)
(343.05,9) (343.15,47) (343.25,-17) (343.35,28) (343.45,-39) (343.55,63) (343.65,-3) (343.75,-28) (343.85,18) (343.95,42)
(344.05,-21) (344.15,6) (344.25,29)
(344.55,40) (344.65,-10) (344.75,55) (344.85,15) (344.95,70) (345.05,25)
(345.35,-22) (345.45,18) (345.55,-56) (345.65,33) (345.75,-6) (345.85,61) (345.95,-31) (346.05,14) (346.15,-44) (346.25,27)
(346.35,3) (346.45,-27) (346.55,46) (346.65,-12) (346.75,22) (346.85,-58) (346.95,8) (347.05,37) (347.15,-19) (347.25,52)
(347.35,-37) (347.45,4) (347.55,-8) (347.65,31) (347.75,-65) (347.85,16) (347.95,44) (348.05,-14) (348.15,23) (348.25,-48)
(348.35,62) (348.45,-3) (348.55,11) (348.65,-36) (348.75,28) (348.85,-11) (348.95,49) (349.05,-22) (349.15,6) (349.25,-61)
(349.35,19) (349.45,38) (349.55,-16) (349.65,2) (349.75,57) (349.85,-29) (349.95,13) (350.05,-42) (350.15,24) (350.25,-7)
(350.35,33) (350.45,-53) (350.55,16) (350.65,-27) (350.75,47) (350.85,-13) (350.95,5) (351.05,-34) (351.15,21) (351.25,-68)
(351.35,8) (351.45,-46) (351.55,-21)
(351.75,-85) (351.85,-32) (351.95,18) (352.05,-9) (352.15,47) (352.25,-41) (352.35,5) (352.45,29) (352.55,-62) (352.65,21)
(352.75,-17) (352.85,53) (352.95,-6) (353.05,31) (353.15,-38) (353.25,12) (353.35,-24) (353.45,43) (353.55,-57) (353.65,18)
(353.75,62) (353.85,-2) (353.95,-29) (354.05,36) (354.15,-11) (354.25,7) (354.35,58) (354.45,-36) (354.55,24) (354.65,-4)
(354.75,-64) (354.85,17) (354.95,33) (355.05,-18) (355.15,45) (355.25,-31) (355.35,2) (355.45,68) (355.55,-13) (355.65,27)
(355.75,-48) (355.85,39) (355.95,-7) (356.05,14) (356.15,-56) (356.25,51) (356.35,-21) (356.45,9) (356.55,32) (356.65,-38)
(356.75,23) (356.85,-9) (356.95,47) (357.05,-63) (357.15,12) (357.25,-26) (357.35,35) (357.45,3) (357.55,-41) (357.65,58)
(357.75,-14) (357.85,21) (357.95,-33) (358.05,6) (358.15,44) (358.25,-52) (358.35,17) (358.45,-8) (358.55,28) (358.65,-71)
(358.75,13) (358.85,36) (358.95,-22) (359.05,52) (359.15,-4) (359.25,19) (359.35,-47) (359.45,31) (359.55,-12) (359.65,66)
(359.75,-29) (359.85,8) (359.95,-58) (360.05,24) (360.15,-15) (360.25,41) (360.35,-37) (360.45,3) (360.55,57) (360.65,-23)
(360.75,19) (360.85,-66) (360.95,34) (361.05,-6) (361.15,22) (361.25,-42) (361.35,49) (361.45,-18) (361.55,11) (361.65,-33)
(361.75,42) (361.85,-9) (361.95,-27)};
\end{axis}

% overlay: shock / event lines through all left panels
\begin{axis}[at={(20.7pt,-33pt)}, anchor=north west, scale only axis, width=317pt, height=443.7pt,
  xmin=338, xmax=362, ymin=0, ymax=1, hide axis]
\addplot[black, line width=0.6pt] coordinates {(344.46,0) (344.46,1)};
\addplot[black, line width=0.6pt] coordinates {(345.20,0) (345.20,1)};
\addplot[black!50, line width=1pt] coordinates {(351.70,0) (351.70,1)};
\end{axis}

% left annotations
\begin{scope}[every node/.style={font=\tf, inner sep=0pt}]
\node at (20.7pt,-15pt) {−72.4};   \node at (20.7pt,-22.5pt) {2.80};
\node at (126.7pt,-15pt) {−73.7};  \node at (126.7pt,-22.5pt) {2.75};
\node at (232pt,-15pt) {−74.9};    \node at (232pt,-22.5pt) {2.70};
\node at (337.7pt,-15pt) {−76.0};  \node at (337.7pt,-22.5pt) {2.65};
\node[anchor=west] at (350.5pt,-15pt) {=HLAT [°]};
\node[anchor=west] at (350.5pt,-22.5pt) {=R [AU]};
\node[font=\idl\fontsize{4.5}{5}\selectfont] at (105.5pt,-27.5pt) {F};
\node[font=\idl\fontsize{4.5}{5}\selectfont] at (115.5pt,-27.5pt) {F};
\node[font=\idl\fontsize{4.5}{5}\selectfont] at (201.5pt,-27.5pt) {F};
\node[font=\lf, anchor=west, text=cRed] at (245pt,-36.5pt) {77-127 keV};
\node[font=\lf, anchor=west, text=cGreen] at (245pt,-43.7pt) {207-336 keV};
\node[font=\lf, anchor=west, text=cNavy] at (245pt,-50.9pt) {601-1123 keV};
\node[font=\lf, anchor=west, text=cMag] at (245pt,-58.1pt) {1.8-3.8 MeV};
\node[font=\lf, anchor=west, text=cPurp] at (245pt,-65.3pt) {3.8-8.0 \,MeV};
\node[font=\lf, anchor=west, text=cPink] at (245pt,-72.5pt) {8.0-19.0 MeV};
\node[text=cRed] at (250pt,-222.7pt) {L36};
\node[font=\idl\fontsize{6}{6.5}\selectfont\bfseries] at (39pt,-255pt) {E79};
\node[font=\idl\fontsize{6}{6.5}\selectfont\bfseries] at (56.5pt,-255pt) {E63};
\node[font=\idl\fontsize{6}{6.5}\selectfont\bfseries] at (140pt,-255pt) {W24};
\node[font=\idl\fontsize{6}{6.5}\selectfont\bfseries] at (164.7pt,-255pt) {W44};
\node[anchor=west, text=cRed] at (257pt,-274pt) {35-53 keV};
\node[anchor=west, text=cNavy] at (263pt,-285pt) {175-315 keV};
\node[rotate=90] at (369pt,-120pt) {p/cm\textsuperscript{2}/s/sr/MeV};
\node[rotate=90] at (369pt,-224pt) {counts/s};
\node[rotate=90] at (369pt,-296pt) {e/cm\textsuperscript{2}/s/sr/MeV};
\node[rotate=90] at (369pt,-344pt) {V \,[km/s]};
\node[rotate=90] at (369pt,-382pt) {B \,[nT]};
\node[rotate=90] at (369pt,-420pt) {θ \,(deg)};
\node[rotate=90] at (369pt,-458pt) {φ \,(deg)};
\node at (42pt,-492.5pt) {HLONG=W120°};
\node at (40pt,-499pt) {HLAT=−72.4°};
\node at (179pt,-492.5pt) {2006};
\node[anchor=east] at (337pt,-492.5pt) {HLONG=W107°};
\node[anchor=east] at (337pt,-499pt) {HLAT=−76.0°};
\end{scope}

% ================= RIGHT panel ====================
\begin{axis}[at={(458.3pt,-30pt)}, anchor=north west, scale only axis, width=423.4pt, height=444pt,
  xmin=339, xmax=359, ymode=log, ymin=1e-6, ymax=1e3,
  xtick={339,...,359},
  xticklabels={339,,341,,343,,345,,347,,349,,351,,353,,355,,357,,359},
  ytick={1e-6,1e-5,1e-4,1e-3,1e-2,1e-1,1,10,100,1000},
  yticklabels={10\textsuperscript{-6},,10\textsuperscript{-4},,10\textsuperscript{-2},,10\textsuperscript{0},,10\textsuperscript{2},},
  tick align=inside, major tick length=6pt, minor tick length=0pt,
  ticklabel style={font=\fontsize{12}{13}\selectfont},
  xticklabel style={yshift=-6pt},
  /pgf/number format/assume math mode=true,
  xlabel={Day of Year 2006},
  ylabel={Intensity (cm\textasciicircum 2/sec/sr/MeV)},
  label style={font=\fontsize{12.5}{14}\selectfont},
  xlabel style={yshift=-9pt},
  ylabel style={yshift=-9pt},
  axis line style={line width=0.7pt},
  every tick/.append style={line width=0.6pt, black!80},
  clip=true]
\addplot[black!85, line width=0.6pt] coordinates {(342.18,1e-6) (342.18,1e3)};
\addplot[black, line width=0.6pt] coordinates {(348.59,1e-6) (348.59,1e3)};
\addplot[black!65, line width=0.7pt] coordinates {(350.70,1e-6) (350.70,1e3)};
\addplot[uRed, line width=0.6pt] coordinates {(344.47,1e-6) (344.47,1e3)};
\addplot[uRed, line width=0.6pt] coordinates {(345.24,1e-6) (345.24,1e3)};
\addplot[uLight, line width=0.8pt] coordinates {(351.68,1e-6) (351.68,1e3)};
\addplot[uRed, line width=0.6pt] table[x=d, y expr=10^(\thisrow{v})] {\ulysses};
\addplot[black, line width=0.6pt] table[x=d, y expr=10^(\thisrow{v})] {\stereo};
\draw[-latex, line width=0.7pt] (axis cs:339.43,1e-6) -- (axis cs:339.43,2e-6);
\draw[-latex, line width=0.7pt] (axis cs:340.30,1e-6) -- (axis cs:340.30,2e-6);
\draw[-latex, line width=0.7pt] (axis cs:340.76,1e-6) -- (axis cs:340.76,2e-6);
\draw[-latex, line width=0.7pt] (axis cs:340.83,1e-6) -- (axis cs:340.83,2e-6);
\draw[-latex, line width=0.7pt] (axis cs:347.08,1e-6) -- (axis cs:347.08,2e-6);
\draw[-latex, line width=0.7pt] (axis cs:348.86,1e-6) -- (axis cs:348.86,2e-6);
\end{axis}

\begin{scope}[every node/.style={inner sep=0pt}]
\node[font=\fontsize{10.5}{11}\selectfont] at (469.3pt,-449pt) {E79};
\node[font=\fontsize{10.5}{11}\selectfont] at (497.7pt,-449pt) {E63};
\node[font=\fontsize{10.5}{11}\selectfont] at (627.7pt,-449pt) {W24};
\node[font=\fontsize{10.5}{11}\selectfont] at (667.7pt,-449pt) {W44};
\node[anchor=east, font=\fontsize{12.5}{13}\selectfont] at (856pt,-96pt) {STEREO/LET};
\node[anchor=east, font=\fontsize{7.5}{8}\selectfont] at (857pt,-107pt) {p 10-15 MeV};
\node[anchor=east, font=\fontsize{12.5}{13}\selectfont, text=uRed] at (861pt,-145.3pt) {ULYSSES/LET};
\node[anchor=east, font=\fontsize{7.5}{8}\selectfont, text=uRed] at (861pt,-157pt) {p 8-19MeV};
\end{scope}
\end{tikzpicture}
\end{document}
